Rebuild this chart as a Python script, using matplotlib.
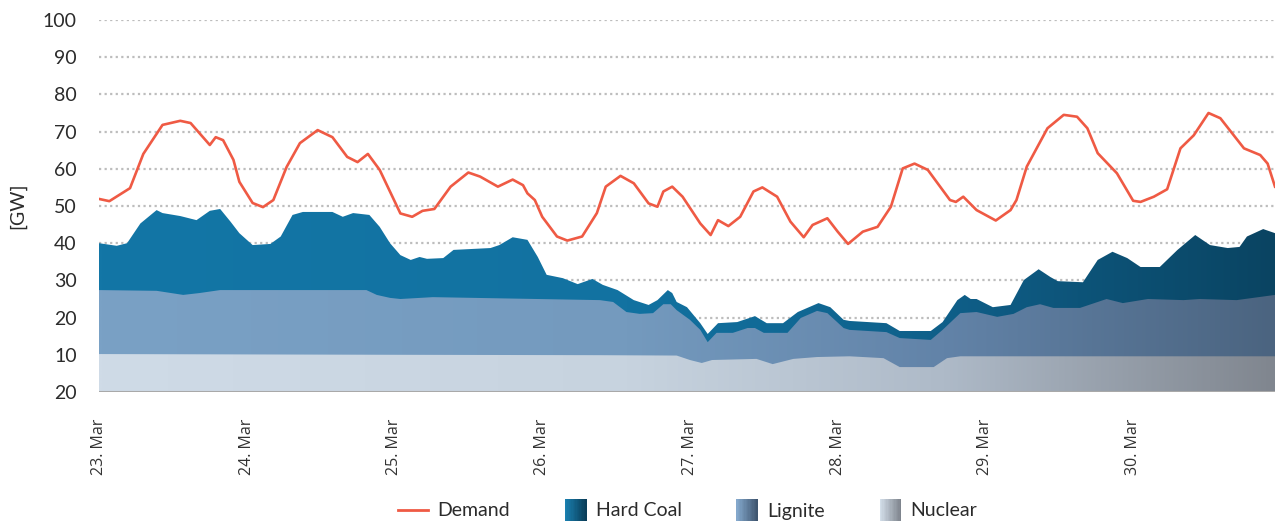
import matplotlib
matplotlib.use("Agg")
import matplotlib.pyplot as plt
import numpy as np
from matplotlib.colors import LinearSegmentedColormap
from matplotlib.legend_handler import HandlerBase
from matplotlib.patches import Rectangle
from matplotlib.lines import Line2D

# x positions are in days after 23 Mar 00:00
day_labels = ["23. Mar", "24. Mar", "25. Mar", "26. Mar", "27. Mar", "28. Mar", "29. Mar", "30. Mar"]
y_ticks = [0, 10, 20, 30, 40, 50, 60, 70, 80, 90, 100]
y_tick_labels = ["20", "10", "20", "30", "40", "50", "60", "70", "80", "90", "100"]

demand_x = [0.00, 0.07, 0.21, 0.30, 0.43, 0.55, 0.62, 0.75, 0.79, 0.84, 0.91, 0.95, 1.04, 1.11, 1.18, 1.27,
            1.36, 1.48, 1.58, 1.68, 1.75, 1.82, 1.90, 2.04, 2.12, 2.19, 2.27, 2.38, 2.50, 2.58, 2.70, 2.80,
            2.87, 2.90, 2.95, 3.00, 3.10, 3.17, 3.27, 3.37, 3.43, 3.53, 3.62, 3.72, 3.78, 3.82, 3.88, 3.95,
            4.07, 4.14, 4.19, 4.26, 4.34, 4.43, 4.49, 4.59, 4.68, 4.77, 4.83, 4.93, 5.00, 5.07, 5.17, 5.27,
            5.36, 5.44, 5.52, 5.61, 5.76, 5.80, 5.85, 5.94, 6.07, 6.17, 6.21, 6.28, 6.42, 6.53, 6.62, 6.69,
            6.76, 6.89, 7.00, 7.05, 7.14, 7.23, 7.32, 7.41, 7.51, 7.59, 7.75, 7.86, 7.91, 7.96]
demand = [51.9, 51.3, 54.8, 64.0, 71.8, 72.9, 72.3, 66.4, 68.5, 67.7, 62.4, 56.5, 50.8, 49.7, 51.6, 60.5,
          66.9, 70.4, 68.5, 63.2, 61.8, 64.0, 59.7, 48.0, 47.1, 48.7, 49.2, 55.2, 59.0, 57.9, 55.2, 57.1,
          55.6, 53.4, 51.6, 47.1, 41.8, 40.7, 41.8, 48.1, 55.2, 58.1, 56.1, 50.7, 49.8, 53.9, 55.2, 52.5,
          45.3, 42.2, 46.2, 44.6, 47.1, 53.9, 55.0, 52.5, 45.8, 41.6, 44.9, 46.7, 43.1, 39.8, 43.1, 44.4,
          49.8, 60.1, 61.4, 59.7, 51.6, 51.1, 52.5, 48.9, 46.1, 48.9, 51.6, 60.6, 70.9, 74.5, 74.0, 70.9,
          64.2, 58.8, 51.4, 51.1, 52.5, 54.5, 65.5, 69.0, 75.0, 73.6, 65.5, 63.7, 61.4, 55.2]

# stacked tops: nuclear + lignite + hard coal
coal_x = [0.00, 0.12, 0.19, 0.28, 0.39, 0.43, 0.55, 0.66, 0.75, 0.82, 0.89, 0.95, 1.04, 1.16, 1.23, 1.31,
          1.38, 1.58, 1.65, 1.72, 1.83, 1.90, 1.97, 2.04, 2.11, 2.17, 2.22, 2.33, 2.40, 2.65, 2.71, 2.80,
          2.90, 2.97, 3.03, 3.14, 3.24, 3.34, 3.41, 3.51, 3.62, 3.72, 3.78, 3.85, 3.88, 3.91, 3.98, 4.07,
          4.12, 4.19, 4.32, 4.44, 4.52, 4.63, 4.73, 4.87, 4.95, 5.04, 5.08, 5.33, 5.42, 5.63, 5.71, 5.81,
          5.86, 5.90, 5.94, 6.05, 6.17, 6.26, 6.36, 6.44, 6.49, 6.66, 6.76, 6.86, 6.96, 7.05, 7.18, 7.30,
          7.42, 7.52, 7.64, 7.72, 7.77, 7.88, 7.96]
coal_top = [40.0, 39.3, 40.0, 45.3, 48.9, 48.1, 47.3, 46.2, 48.7, 49.2, 45.8, 42.7, 39.5, 39.8, 41.8, 47.6,
            48.4, 48.4, 47.1, 48.1, 47.6, 44.4, 40.0, 36.8, 35.5, 36.3, 35.8, 36.0, 38.2, 38.7, 39.5, 41.6,
            40.9, 36.3, 31.5, 30.6, 29.0, 30.4, 28.8, 27.4, 24.7, 23.4, 24.7, 27.4, 26.6, 24.2, 22.8, 18.5,
            15.6, 18.5, 18.8, 20.4, 18.5, 18.5, 21.5, 23.9, 22.8, 19.4, 19.1, 18.5, 16.4, 16.4, 18.8, 24.7,
            26.1, 25.0, 25.0, 22.8, 23.4, 30.1, 33.0, 30.9, 29.8, 29.5, 35.5, 37.7, 36.0, 33.6, 33.6, 38.2,
            42.2, 39.5, 38.7, 39.0, 41.8, 43.8, 42.7]

lignite_x = [0.00, 0.39, 0.57, 0.68, 0.82, 1.81, 1.88, 1.97, 2.04, 2.26, 3.39, 3.48, 3.57, 3.66, 3.75, 3.82,
             3.87, 3.91, 4.00, 4.07, 4.12, 4.18, 4.29, 4.39, 4.44, 4.50, 4.66, 4.75, 4.86, 4.93, 5.04, 5.08,
             5.33, 5.42, 5.63, 5.71, 5.83, 5.94, 6.08, 6.19, 6.28, 6.37, 6.46, 6.64, 6.82, 6.93, 7.10, 7.34,
             7.45, 7.70, 7.96]
lignite_top = [27.4, 27.2, 26.1, 26.6, 27.4, 27.4, 26.1, 25.3, 25.0, 25.5, 24.7, 24.2, 21.5, 21.0, 21.2, 23.6,
               23.6, 22.0, 19.4, 16.7, 13.4, 15.9, 15.9, 17.2, 17.2, 15.9, 15.9, 19.9, 21.8, 21.2, 17.2, 16.7,
               16.1, 14.5, 14.0, 16.7, 21.2, 21.5, 20.2, 21.0, 22.8, 23.6, 22.6, 22.6, 25.0, 23.9, 25.0, 24.7,
               25.0, 24.7, 26.1]

nuclear_x = [0.00, 2.04, 3.39, 3.91, 4.00, 4.08, 4.15, 4.45, 4.56, 4.70, 4.86, 5.08, 5.31, 5.42, 5.65, 5.74,
             5.83, 7.96]
nuclear_top = [10.2, 10.0, 9.9, 9.8, 8.6, 7.8, 8.6, 8.9, 7.5, 8.9, 9.4, 9.6, 9.1, 6.7, 6.7, 9.1, 9.6, 9.6]

# horizontal colour gradients (left -> right)
grad_stops = [0.0, 0.45, 0.72, 1.0]
coal_colors = ["#1376a6", "#1272a1", "#0f5f89", "#0a4462"]
lignite_colors = ["#7aa1c5", "#749abe", "#6283a8", "#4b6480"]
nuclear_colors = ["#cfdbe7", "#c7d3df", "#aebac8", "#80868f"]

x_end = 7.96

fig = plt.figure(figsize=(12.75, 5.21), dpi=100)
ax = fig.add_axes([99 / 1275, 129 / 521, 1176 / 1275, 372 / 521])

grad = np.linspace(0, 1, 512).reshape(1, -1)


def gradient_area(xs, ys, colors, z):
    cmap = LinearSegmentedColormap.from_list("g", list(zip(grad_stops, colors)))
    poly = ax.fill_between(xs, 0, ys, facecolor="none", edgecolor="none", zorder=z)
    im = ax.imshow(grad, extent=[0, x_end, 0, 100], aspect="auto", cmap=cmap,
                   origin="lower", zorder=z, interpolation="bilinear")
    im.set_clip_path(poly.get_paths()[0], transform=ax.transData)


gradient_area(coal_x, coal_top, coal_colors, 2)
gradient_area(lignite_x, lignite_top, lignite_colors, 3)
gradient_area(nuclear_x, nuclear_top, nuclear_colors, 4)

ax.plot(demand_x, demand, color="#ef5a44", lw=1.9, zorder=6, solid_joinstyle="round")
ax.axhline(0, color="#a9a9a9", lw=2.2, zorder=5)

ax.set_xlim(0, x_end)
ax.set_ylim(0, 100)
ax.set_yticks(y_ticks)
ax.set_yticklabels(y_tick_labels, fontsize=14, color="#2b2b2b", family="Lato")
ax.set_xticks(range(len(day_labels)))
ax.set_xticklabels(day_labels, rotation=90, fontsize=11.5, color="#333333", family="Open Sans",
                   va="top", ha="center")
ax.tick_params(axis="both", length=0)
ax.tick_params(axis="y", pad=16)
ax.tick_params(axis="x", pad=19)
ax.yaxis.grid(True, linestyle=(0, (1, 1.5)), color="#bdbdbd", lw=1.6, zorder=0)
ax.set_axisbelow(True)
for s in ax.spines.values():
    s.set_visible(False)
ax.set_ylabel("[GW]", fontsize=14, color="#2b2b2b", family="Lato", labelpad=12)


class GradHandler(HandlerBase):
    def __init__(self, c0, c1):
        super().__init__()
        self.c0 = np.array(matplotlib.colors.to_rgb(c0))
        self.c1 = np.array(matplotlib.colors.to_rgb(c1))

    def create_artists(self, legend, orig_handle, xdescent, ydescent, width, height, fontsize, trans):
        n = 16
        arts = []
        for i in range(n):
            c = self.c0 + (self.c1 - self.c0) * i / (n - 1)
            r = Rectangle((-xdescent + width * i / n, -ydescent - 5), width / n + 0.3, height + 8,
                          facecolor=c, edgecolor="none", transform=trans)
            arts.append(r)
        return arts


class LongLineHandler(HandlerBase):
    def create_artists(self, legend, orig_handle, xdescent, ydescent, width, height, fontsize, trans):
        y = -ydescent + height / 2
        ln = Line2D([-xdescent - width * 0.4, -xdescent + width], [y, y],
                    color=orig_handle.get_color(), lw=orig_handle.get_linewidth(), transform=trans)
        return [ln]


h_demand = Line2D([], [], color="#ef5a44", lw=2)
h_coal = Rectangle((0, 0), 1, 1)
h_lig = Rectangle((0, 0), 1, 1)
h_nuc = Rectangle((0, 0), 1, 1)
fig.legend([h_demand, h_coal, h_lig, h_nuc], ["Demand", "Hard Coal", "Lignite", "Nuclear"],
           handler_map={h_demand: LongLineHandler(),
                        h_coal: GradHandler("#1a80b0", "#0a3e5a"),
                        h_lig: GradHandler("#84a8cc", "#3f5670"),
                        h_nuc: GradHandler("#d3dee9", "#7f858e")},
           loc="center", bbox_to_anchor=(692 / 1275, 10 / 521), ncol=4, frameon=False,
           prop={"family": "Lato", "size": 14}, handlelength=1.1, handletextpad=0.5,
           columnspacing=2.8, labelcolor="#2b2b2b")

fig.savefig("out.png", dpi=100)
